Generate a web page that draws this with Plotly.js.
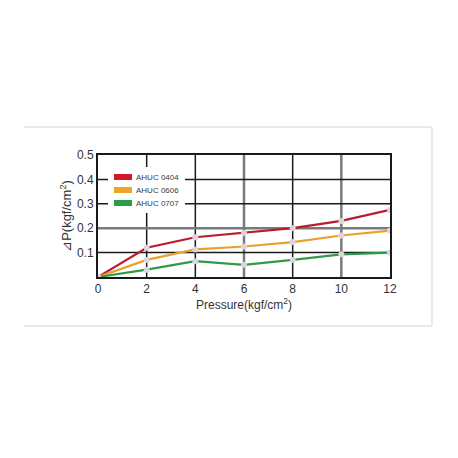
<!DOCTYPE html>
<html><head><meta charset="utf-8">
<script src="https://cdn.plot.ly/plotly-3.0.1.min.js"></script>
<style>html,body{margin:0;padding:0;background:#fff;}#c{width:458px;height:458px;}</style>
</head><body><div id="c"></div>
<script>
var pressure = [0, 2, 4, 6, 8, 10, 12];
var ahuc0404 = [0, 0.12, 0.163, 0.18, 0.2, 0.23, 0.275];
var ahuc0606 = [0, 0.07, 0.113, 0.125, 0.143, 0.17, 0.19];
var ahuc0707 = [0, 0.03, 0.065, 0.05, 0.07, 0.093, 0.1];
var seriesNames = ['AHUC 0404', 'AHUC 0606', 'AHUC 0707'];
var xTicks = [0, 2, 4, 6, 8, 10, 12];
var yTicks = [0.1, 0.2, 0.3, 0.4, 0.5];
var gridBlackX = [2, 4, 8];
var gridGrayX = [6, 10];
var gridBlackY = [0.1, 0.3, 0.4];
var gridGrayY = [0.2];

var colors = ['#b81c2e', '#e9a12e', '#2f9a4a'];
var swatchColors = ['#d0182a', '#eea52a', '#2a9d48'];
var series = [ahuc0404, ahuc0606, ahuc0707];
var traces = series.map(function (s, i) {
  return {
    x: pressure, y: s, name: seriesNames[i], type: 'scatter', mode: 'lines+markers',
    line: {color: colors[i], width: 2.2},
    marker: {color: '#dcd5e0', size: 6},
    showlegend: false,
    hoverinfo: 'x+y'
  };
});

// pixel -> paper helpers (plot area 98..390 x 155..277)
function px(v) { return (v - 98) / 292; }
function py(v) { return (277 - v) / 122; }

var shapes = [];
gridBlackX.forEach(function (v) { shapes.push({type: 'line', xref: 'x', yref: 'paper', x0: v, x1: v, y0: 0, y1: 1, layer: 'below', line: {color: '#1a1a1a', width: 1.5}}); });
gridGrayX.forEach(function (v) { shapes.push({type: 'line', xref: 'x', yref: 'paper', x0: v, x1: v, y0: 0, y1: 1, layer: 'below', line: {color: '#7a7a7a', width: 2.5}}); });
gridBlackY.forEach(function (v) { shapes.push({type: 'line', xref: 'paper', yref: 'y', x0: 0, x1: 1, y0: v, y1: v, layer: 'below', line: {color: '#1a1a1a', width: 1.5}}); });
gridGrayY.forEach(function (v) { shapes.push({type: 'line', xref: 'paper', yref: 'y', x0: 0, x1: 1, y0: v, y1: v, layer: 'below', line: {color: '#7a7a7a', width: 2.5}}); });
// outer light frame (top, right, bottom)
shapes.push({type: 'line', xref: 'paper', yref: 'paper', x0: px(24), x1: px(432), y0: py(127), y1: py(127), line: {color: '#d4d4d4', width: 1}});
shapes.push({type: 'line', xref: 'paper', yref: 'paper', x0: px(432), x1: px(432), y0: py(326), y1: py(127), line: {color: '#d4d4d4', width: 1}});
shapes.push({type: 'line', xref: 'paper', yref: 'paper', x0: px(24), x1: px(432), y0: py(326), y1: py(326), line: {color: '#d4d4d4', width: 1}});
// custom legend box (drawn above the gridlines)
shapes.push({type: 'rect', xref: 'paper', yref: 'paper', x0: px(108), x1: px(185), y0: py(213), y1: py(167), layer: 'above', fillcolor: '#ffffff', line: {width: 0}});
var annotations = [];
var legendRows = [177, 190, 203];
seriesNames.forEach(function (n, i) {
  var c = legendRows[i];
  shapes.push({type: 'rect', xref: 'paper', yref: 'paper', x0: px(114), x1: px(132), y0: py(c + 3), y1: py(c - 3), layer: 'above', fillcolor: swatchColors[i], line: {width: 0}});
  annotations.push({xref: 'paper', yref: 'paper', x: px(134), y: py(c), xanchor: 'left', yanchor: 'middle', showarrow: false,
                    text: n, font: {size: 8, color: '#3a3a3a'}});
});

var layout = {
  width: 458, height: 458,
  margin: {l: 98, r: 68, t: 155, b: 181},
  paper_bgcolor: '#ffffff', plot_bgcolor: '#ffffff',
  font: {family: '"Liberation Sans", Arial, sans-serif', size: 12, color: '#333'},
  showlegend: false,
  xaxis: {range: [0, 12], tickvals: xTicks, ticktext: xTicks.map(String), showgrid: false, zeroline: false,
          showline: true, linecolor: '#1a1a1a', linewidth: 2, mirror: true, ticks: '',
          tickfont: {size: 12, color: '#333'},
          title: {text: 'Pressure(kgf/cm<sup>2</sup>)', font: {size: 12, color: '#333'}, standoff: 4}},
  yaxis: {range: [0, 0.5], tickvals: yTicks, ticktext: ['0.1', '0.2', '0.3', '0.4', '0.5'], showgrid: false, zeroline: false,
          showline: true, linecolor: '#1a1a1a', linewidth: 2, mirror: true, ticks: '',
          tickfont: {size: 12, color: '#333'},
          title: {text: '\u22BFP(kgf/cm<sup>2</sup>)', font: {size: 13, color: '#333'}, standoff: 2}},
  shapes: shapes,
  annotations: annotations
};
Plotly.newPlot('c', traces, layout, {displayModeBar: false, staticPlot: true});
</script>
</body></html>
